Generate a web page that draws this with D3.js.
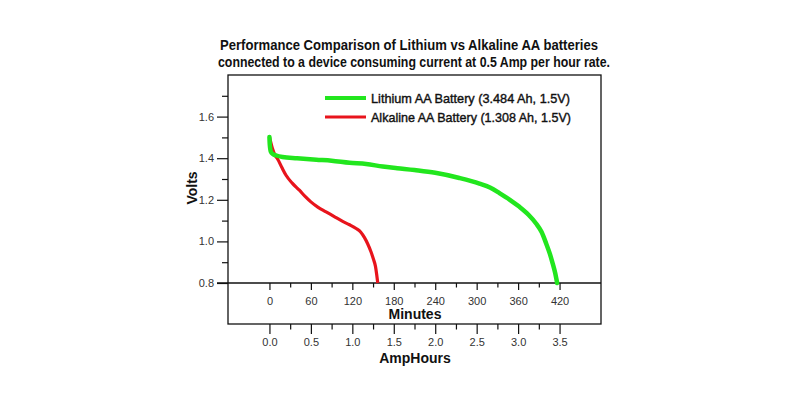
<!DOCTYPE html>
<html>
<head>
<meta charset="utf-8">
<script src="https://cdn.jsdelivr.net/npm/d3@7"></script>
<style>
  html, body { margin: 0; padding: 0; background: #fff; }
  svg { display: block; font-family: "Liberation Sans", Arial, sans-serif; }
</style>
</head>
<body>
<svg id="chart" width="800" height="400"></svg>
<script>
// ---- Data (minutes, volts) ----
const lithiumMinutes = [0, 0.5, 2, 5, 10, 19, 40, 68, 90, 116, 140, 164, 185, 210, 240, 275, 304, 320, 333, 348, 362, 375, 386, 394, 400.6, 406, 410, 413.5, 416.5];
const lithiumVolts   = [1.502, 1.465, 1.432, 1.420, 1.413, 1.406, 1.400, 1.393, 1.388, 1.378, 1.372, 1.360, 1.352, 1.343, 1.330, 1.305, 1.278, 1.258, 1.232, 1.200, 1.166, 1.128, 1.086, 1.045, 0.990, 0.940, 0.894, 0.850, 0.800];
const alkalineMinutes = [0, 1, 4, 8, 12, 18, 24, 33, 43.4, 52, 60, 70, 82, 95, 106, 116, 125.5, 132, 137.6, 142, 147, 150.5, 153.5, 155.3, 156.8];
const alkalineVolts   = [1.500, 1.488, 1.450, 1.415, 1.395, 1.355, 1.318, 1.280, 1.246, 1.215, 1.190, 1.165, 1.142, 1.117, 1.096, 1.080, 1.062, 1.045, 1.018, 0.990, 0.950, 0.915, 0.880, 0.840, 0.800];

const seriesNames = ["Lithium AA Battery (3.484 Ah, 1.5V)", "Alkaline AA Battery (1.308 Ah, 1.5V)"];
const seriesColors = ["#22e61e", "#e8141c"];

const voltMajorTicks = [0.8, 1.0, 1.2, 1.4, 1.6];
const voltMinorTicks = [0.9, 1.1, 1.3, 1.5, 1.7];
const minuteMajorTicks = [0, 60, 120, 180, 240, 300, 360, 420];
const minuteMinorTicks = [30, 90, 150, 210, 270, 330, 390];
const ampHourMajorTicks = [0.0, 0.5, 1.0, 1.5, 2.0, 2.5, 3.0, 3.5];
const ampHourMinorTicks = [0.25, 0.75, 1.25, 1.75, 2.25, 2.75, 3.25];

const titleLines = ["Performance Comparison of Lithium vs Alkaline AA batteries",
                    "connected to a device consuming current at 0.5 Amp per hour rate."];

// ---- Layout ----
const svg = d3.select("#chart");
const plotLeft = 228, plotRight = 601, plotTop = 75, axisY = 283, boxBottom = 324;

const x = d3.scaleLinear().domain([-60, 480]).range([plotLeft, plotRight]);
const xAh = d3.scaleLinear().domain([-0.5, 4.0]).range([plotLeft, plotRight]);
const y = d3.scaleLinear().domain([0.8, 1.8]).range([axisY, plotTop]);

// Title
svg.append("text").attr("x", 409).attr("y", 50).attr("text-anchor", "middle")
  .attr("font-size", 14.5).attr("font-weight", "bold").attr("fill", "#111")
  .attr("textLength", 378).attr("lengthAdjust", "spacingAndGlyphs")
  .text(titleLines[0]);
svg.append("text").attr("x", 414).attr("y", 67).attr("text-anchor", "middle")
  .attr("font-size", 14).attr("font-weight", "bold").attr("fill", "#111")
  .attr("textLength", 392).attr("lengthAdjust", "spacingAndGlyphs")
  .text(titleLines[1]);

// Box
svg.append("rect").attr("x", plotLeft).attr("y", plotTop)
  .attr("width", plotRight - plotLeft).attr("height", boxBottom - plotTop)
  .attr("fill", "none").attr("stroke", "#111").attr("stroke-width", 1.3);

// Y axis (Volts)
const yAxis = svg.append("g").attr("transform", `translate(${plotLeft},0)`);
yAxis.call(d3.axisLeft(y).tickValues(voltMajorTicks).tickSize(11).tickPadding(3).tickFormat(d3.format(".1f")));
yAxis.append("g").call(d3.axisLeft(y).tickValues(voltMinorTicks).tickSize(6).tickFormat(""));
yAxis.selectAll(".domain").remove();
yAxis.selectAll("line").attr("stroke", "#111").attr("stroke-width", 1.2);
yAxis.selectAll("text").attr("font-size", 11).attr("fill", "#333").attr("font-family", "Liberation Sans, Arial, sans-serif");

// Minutes axis
const xAxis = svg.append("g").attr("transform", `translate(0,${axisY})`);
xAxis.call(d3.axisBottom(x).tickValues(minuteMajorTicks).tickSize(7).tickPadding(7).tickFormat(d3.format("d")));
xAxis.append("g").call(d3.axisBottom(x).tickValues(minuteMinorTicks).tickSize(4.5).tickFormat(""));
xAxis.selectAll(".domain").remove();
xAxis.selectAll("line").attr("stroke", "#111").attr("stroke-width", 1.2);
xAxis.selectAll("text").attr("font-size", 11).attr("fill", "#333").attr("font-family", "Liberation Sans, Arial, sans-serif");
svg.append("line").attr("x1", plotLeft - 11).attr("x2", plotRight).attr("y1", axisY).attr("y2", axisY)
  .attr("stroke", "#111").attr("stroke-width", 1.3);

// AmpHours axis
const ahAxis = svg.append("g").attr("transform", `translate(0,${boxBottom})`);
ahAxis.call(d3.axisBottom(xAh).tickValues(ampHourMajorTicks).tickSize(10).tickPadding(4).tickFormat(d3.format(".1f")));
ahAxis.append("g").call(d3.axisBottom(xAh).tickValues(ampHourMinorTicks).tickSize(5.5).tickFormat(""));
ahAxis.selectAll(".domain").remove();
ahAxis.selectAll("line").attr("stroke", "#111").attr("stroke-width", 1.2);
ahAxis.selectAll("text").attr("font-size", 11).attr("fill", "#333").attr("font-family", "Liberation Sans, Arial, sans-serif");

// Axis titles
svg.append("text").attr("x", 415).attr("y", 319).attr("text-anchor", "middle")
  .attr("font-size", 14).attr("font-weight", "bold").attr("fill", "#111").text("Minutes");
svg.append("text").attr("x", 415).attr("y", 363).attr("text-anchor", "middle")
  .attr("font-size", 14).attr("font-weight", "bold").attr("fill", "#111").text("AmpHours");
svg.append("text").attr("transform", "translate(197,188) rotate(-90)").attr("text-anchor", "middle")
  .attr("font-size", 14).attr("font-weight", "bold").attr("fill", "#111").text("Volts");

// Lines
const line = d3.line().x(d => x(d[0])).y(d => y(d[1])).curve(d3.curveMonotoneX);
const lithium = lithiumMinutes.map((m, i) => [m, lithiumVolts[i]]);
const alkaline = alkalineMinutes.map((m, i) => [m, alkalineVolts[i]]);

svg.append("path").datum(alkaline).attr("d", line).attr("fill", "none")
  .attr("stroke", seriesColors[1]).attr("stroke-width", 3.2).attr("stroke-linejoin", "round");
svg.append("path").datum(lithium).attr("d", line).attr("fill", "none")
  .attr("stroke", seriesColors[0]).attr("stroke-width", 4.5).attr("stroke-linejoin", "round").attr("stroke-linecap", "round");

// Legend
const legend = svg.append("g");
const legendY = [98, 117];
const legendW = [199, 200];
seriesNames.forEach((name, i) => {
  legend.append("line").attr("x1", 325).attr("x2", 366).attr("y1", legendY[i]).attr("y2", legendY[i])
    .attr("stroke", seriesColors[i]).attr("stroke-width", i === 0 ? 4 : 3.2);
  legend.append("text").attr("x", 371).attr("y", legendY[i] + 4.5)
    .attr("font-size", 13).attr("fill", "#111")
    .attr("stroke", "#111").attr("stroke-width", 0.4)
    .attr("textLength", legendW[i]).attr("lengthAdjust", "spacingAndGlyphs")
    .text(name);
});
</script>
</body>
</html>
